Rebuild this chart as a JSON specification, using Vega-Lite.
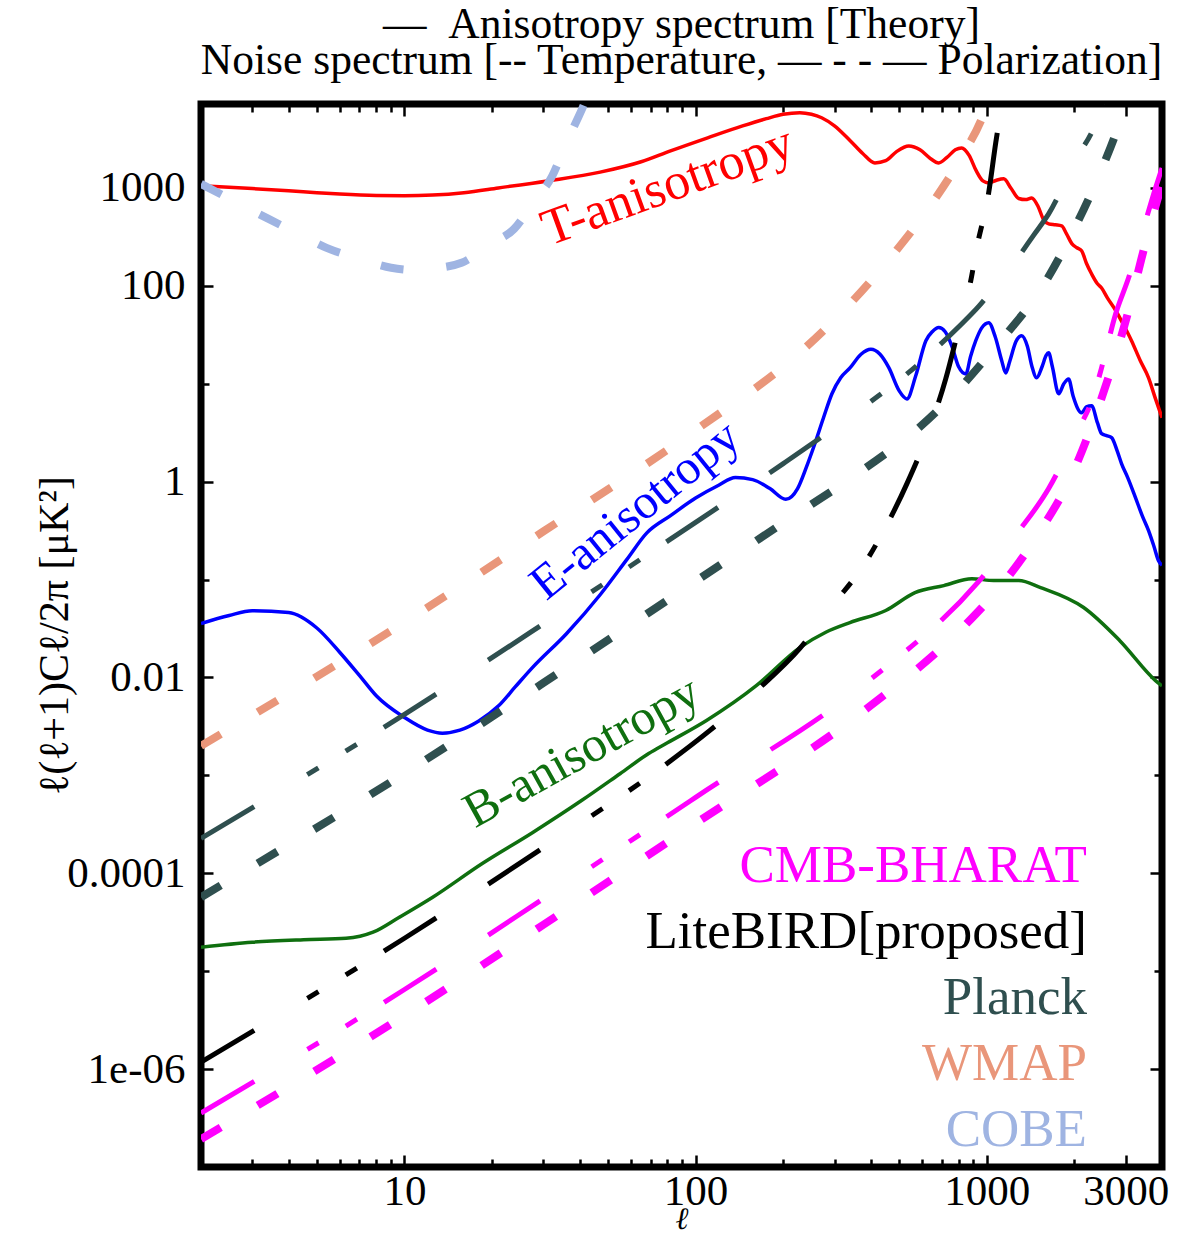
{
"$schema": "https://vega.github.io/schema/vega-lite/v6.json",
"width": 961, "height": 1063,
"autosize": {"type": "none"},
"padding": {"left": 201, "top": 104, "right": 22, "bottom": 66},
"background": "white",
"title": {"text": ["—\u00a0\u00a0Anisotropy spectrum [Theory]\u00a0\u00a0", "Noise spectrum [-- Temperature, — - - — Polarization]"], "anchor": "middle", "font": "Liberation Serif", "fontSize": 43.5, "fontWeight": "normal", "color": "black", "lineHeight": 36, "offset": 19},
"datasets": {
"theory": [
{"s":"T","l":2,"v":1050},{"s":"T","l":3,"v":985},{"s":"T","l":4,"v":935},{"s":"T","l":5,"v":895},{"s":"T","l":6,"v":865},{"s":"T","l":8,"v":835},{"s":"T","l":10,"v":830},{"s":"T","l":12.5,"v":845},{"s":"T","l":16,"v":895},{"s":"T","l":21,"v":1000},{"s":"T","l":31,"v":1180},{"s":"T","l":47,"v":1450},{"s":"T","l":65,"v":1850},{"s":"T","l":82,"v":2390},{"s":"T","l":110,"v":3250},{"s":"T","l":145,"v":4300},{"s":"T","l":175,"v":5100},{"s":"T","l":200,"v":5650},{"s":"T","l":228,"v":5860},{"s":"T","l":250,"v":5650},{"s":"T","l":271,"v":5210},{"s":"T","l":300,"v":4300},{"s":"T","l":339,"v":3050},{"s":"T","l":375,"v":2250},{"s":"T","l":413,"v":1800},{"s":"T","l":450,"v":1900},{"s":"T","l":490,"v":2350},{"s":"T","l":540,"v":2680},{"s":"T","l":590,"v":2450},{"s":"T","l":640,"v":2000},{"s":"T","l":684,"v":1800},{"s":"T","l":730,"v":2050},{"s":"T","l":780,"v":2450},{"s":"T","l":820,"v":2560},{"s":"T","l":870,"v":2150},{"s":"T","l":920,"v":1500},{"s":"T","l":970,"v":1180},{"s":"T","l":1016,"v":1125},{"s":"T","l":1080,"v":1200},{"s":"T","l":1144,"v":1240},{"s":"T","l":1210,"v":1000},{"s":"T","l":1288,"v":780},{"s":"T","l":1360,"v":760},{"s":"T","l":1427,"v":790},{"s":"T","l":1500,"v":650},{"s":"T","l":1570,"v":470},{"s":"T","l":1632,"v":430},{"s":"T","l":1720,"v":420},{"s":"T","l":1808,"v":410},{"s":"T","l":1880,"v":340},{"s":"T","l":1960,"v":270},{"s":"T","l":2040,"v":245},{"s":"T","l":2118,"v":228},{"s":"T","l":2200,"v":170},{"s":"T","l":2293,"v":132},{"s":"T","l":2400,"v":105},{"s":"T","l":2481,"v":95},{"s":"T","l":2600,"v":75},{"s":"T","l":2773,"v":56},{"s":"T","l":2950,"v":40},{"s":"T","l":3143,"v":27.5},{"s":"T","l":3360,"v":17.5},{"s":"T","l":3597,"v":11.5},{"s":"T","l":3800,"v":7},{"s":"T","l":4000,"v":4.5},
{"s":"E","l":2,"v":0.0356},{"s":"E","l":2.5,"v":0.043},{"s":"E","l":3,"v":0.048},{"s":"E","l":4,"v":0.046},{"s":"E","l":5,"v":0.032},{"s":"E","l":6,"v":0.018},{"s":"E","l":7,"v":0.0105},{"s":"E","l":8,"v":0.0065},{"s":"E","l":10,"v":0.0039},{"s":"E","l":12,"v":0.0029},{"s":"E","l":13.5,"v":0.0027},{"s":"E","l":15.5,"v":0.0029},{"s":"E","l":18,"v":0.0036},{"s":"E","l":21,"v":0.0051},{"s":"E","l":24,"v":0.008},{"s":"E","l":27.5,"v":0.0126},{"s":"E","l":36,"v":0.028},{"s":"E","l":47,"v":0.07},{"s":"E","l":58,"v":0.16},{"s":"E","l":68,"v":0.3},{"s":"E","l":82,"v":0.45},{"s":"E","l":100,"v":0.68},{"s":"E","l":120,"v":0.92},{"s":"E","l":137,"v":1.1},{"s":"E","l":157,"v":1.05},{"s":"E","l":180,"v":0.85},{"s":"E","l":204,"v":0.66},{"s":"E","l":224,"v":0.85},{"s":"E","l":240,"v":1.4},{"s":"E","l":255,"v":2.3},{"s":"E","l":275,"v":4.5},{"s":"E","l":294,"v":7.9},{"s":"E","l":315,"v":11.5},{"s":"E","l":339,"v":14.5},{"s":"E","l":370,"v":20},{"s":"E","l":400,"v":22.5},{"s":"E","l":430,"v":20},{"s":"E","l":461,"v":14.6},{"s":"E","l":500,"v":8.5},{"s":"E","l":532,"v":7},{"s":"E","l":570,"v":12},{"s":"E","l":618,"v":27.5},{"s":"E","l":650,"v":34},{"s":"E","l":684,"v":37.5},{"s":"E","l":720,"v":34},{"s":"E","l":760,"v":24},{"s":"E","l":800,"v":15},{"s":"E","l":848,"v":12.6},{"s":"E","l":880,"v":19},{"s":"E","l":917,"v":27.5},{"s":"E","l":960,"v":37},{"s":"E","l":1016,"v":42},{"s":"E","l":1070,"v":30},{"s":"E","l":1126,"v":17.2},{"s":"E","l":1162,"v":12.9},{"s":"E","l":1200,"v":17},{"s":"E","l":1260,"v":27},{"s":"E","l":1318,"v":31},{"s":"E","l":1380,"v":24},{"s":"E","l":1430,"v":15},{"s":"E","l":1484,"v":11.5},{"s":"E","l":1550,"v":15},{"s":"E","l":1600,"v":19.5},{"s":"E","l":1632,"v":20.7},{"s":"E","l":1680,"v":15},{"s":"E","l":1767,"v":7.9},{"s":"E","l":1840,"v":10},{"s":"E","l":1911,"v":11.2},{"s":"E","l":1980,"v":7.5},{"s":"E","l":2118,"v":5.06},{"s":"E","l":2200,"v":5.8},{"s":"E","l":2293,"v":5.97},{"s":"E","l":2400,"v":4},{"s":"E","l":2481,"v":3.09},{"s":"E","l":2580,"v":2.95},{"s":"E","l":2685,"v":2.81},{"s":"E","l":2800,"v":2.1},{"s":"E","l":2904,"v":1.53},{"s":"E","l":3050,"v":1.1},{"s":"E","l":3243,"v":0.687},{"s":"E","l":3420,"v":0.45},{"s":"E","l":3597,"v":0.316},{"s":"E","l":3750,"v":0.22},{"s":"E","l":3891,"v":0.156},{"s":"E","l":4000,"v":0.14},
{"s":"B","l":2,"v":1.76e-5},{"s":"B","l":3,"v":1.98e-5},{"s":"B","l":4.5,"v":2.1e-5},{"s":"B","l":6.3,"v":2.17e-5},{"s":"B","l":7.8,"v":2.5e-5},{"s":"B","l":9.6,"v":3.56e-5},{"s":"B","l":12.5,"v":5.7e-5},{"s":"B","l":18.5,"v":1.26e-4},{"s":"B","l":27.5,"v":2.6e-4},{"s":"B","l":40.8,"v":5.6e-4},{"s":"B","l":55,"v":1.04e-3},{"s":"B","l":69,"v":1.67e-3},{"s":"B","l":80,"v":2.15e-3},{"s":"B","l":109,"v":3.64e-3},{"s":"B","l":162,"v":8.3e-3},{"s":"B","l":228,"v":0.0202},{"s":"B","l":280,"v":0.029},{"s":"B","l":339,"v":0.0364},{"s":"B","l":450,"v":0.0483},{"s":"B","l":567,"v":0.0736},{"s":"B","l":712,"v":0.0868},{"s":"B","l":889,"v":0.102},{"s":"B","l":1057,"v":0.0977},{"s":"B","l":1288,"v":0.0977},{"s":"B","l":1531,"v":0.0828},{"s":"B","l":2152,"v":0.0518},{"s":"B","l":2860,"v":0.0239},{"s":"B","l":3800,"v":0.0093},{"s":"B","l":4000,"v":0.0082}
],
"temp": [
{"s":"COBE","l":2,"v":1100},{"s":"COBE","l":2.5,"v":780},{"s":"COBE","l":3.36,"v":494},{"s":"COBE","l":4.3,"v":342},{"s":"COBE","l":5.4,"v":244},{"s":"COBE","l":7,"v":189},{"s":"COBE","l":9,"v":153},{"s":"COBE","l":11,"v":145},{"s":"COBE","l":13,"v":152},{"s":"COBE","l":15.7,"v":172},{"s":"COBE","l":20,"v":273},{"s":"COBE","l":23.8,"v":382},{"s":"COBE","l":28,"v":747},{"s":"COBE","l":31.9,"v":1265},{"s":"COBE","l":35,"v":2340},{"s":"COBE","l":38.3,"v":4300},{"s":"COBE","l":42,"v":8000},{"s":"COBE","l":45,"v":15000},
{"s":"WMAP","l":2,"v":0.002},{"s":"WMAP","l":10,"v":0.0367},{"s":"WMAP","l":30,"v":0.31},{"s":"WMAP","l":100,"v":3.36},{"s":"WMAP","l":238,"v":23.3},{"s":"WMAP","l":339,"v":65.5},{"s":"WMAP","l":472,"v":202},{"s":"WMAP","l":632,"v":625},{"s":"WMAP","l":815,"v":2023},{"s":"WMAP","l":993,"v":6546},{"s":"WMAP","l":1050,"v":11000},
{"s":"Planck","l":2,"v":5.7e-5},{"s":"Planck","l":10,"v":1.05e-3},{"s":"Planck","l":30,"v":8.8e-3},{"s":"Planck","l":100,"v":0.096},{"s":"Planck","l":200,"v":0.38},{"s":"Planck","l":385,"v":1.39},{"s":"Planck","l":585,"v":3.56},{"s":"Planck","l":834,"v":10},{"s":"Planck","l":1000,"v":18.6},{"s":"Planck","l":1171,"v":32.4},{"s":"Planck","l":1545,"v":95.5},{"s":"Planck","l":1959,"v":340},{"s":"Planck","l":2385,"v":1179},{"s":"Planck","l":2836,"v":4295},{"s":"Planck","l":3000,"v":7000},{"s":"Planck","l":3200,"v":12000},
{"s":"CMB-BHARAT","l":2,"v":1.93e-7},{"s":"CMB-BHARAT","l":10,"v":3.52e-6},{"s":"CMB-BHARAT","l":30,"v":2.98e-5},{"s":"CMB-BHARAT","l":100,"v":3.23e-4},{"s":"CMB-BHARAT","l":387,"v":4.8e-3},{"s":"CMB-BHARAT","l":841,"v":0.034},{"s":"CMB-BHARAT","l":1171,"v":0.102},{"s":"CMB-BHARAT","l":1545,"v":0.331},{"s":"CMB-BHARAT","l":1941,"v":1.1},{"s":"CMB-BHARAT","l":2328,"v":4.19},{"s":"CMB-BHARAT","l":2685,"v":14.6},{"s":"CMB-BHARAT","l":3069,"v":55.6},{"s":"CMB-BHARAT","l":3401,"v":190},{"s":"CMB-BHARAT","l":3800,"v":650},{"s":"CMB-BHARAT","l":4000,"v":1100}
],
"pol": [
{"s":"Planck","l":2,"v":2.27e-4},{"s":"Planck","l":10,"v":4.2e-3},{"s":"Planck","l":30,"v":0.0353},{"s":"Planck","l":100,"v":0.384},{"s":"Planck","l":200,"v":1.53},{"s":"Planck","l":403,"v":6.7},{"s":"Planck","l":532,"v":12.6},{"s":"Planck","l":673,"v":23.3},{"s":"Planck","l":800,"v":38},{"s":"Planck","l":940,"v":62},{"s":"Planck","l":1100,"v":110},{"s":"Planck","l":1256,"v":180},{"s":"Planck","l":1450,"v":330},{"s":"Planck","l":1632,"v":543},{"s":"Planck","l":2037,"v":2023},{"s":"Planck","l":2367,"v":4604},{"s":"Planck","l":2500,"v":7500},
{"s":"LiteBIRD[proposed]","l":2,"v":1.18e-6},{"s":"LiteBIRD[proposed]","l":10,"v":2.17e-5},{"s":"LiteBIRD[proposed]","l":30,"v":1.83e-4},{"s":"LiteBIRD[proposed]","l":78,"v":1.26e-3},{"s":"LiteBIRD[proposed]","l":112,"v":2.88e-3},{"s":"LiteBIRD[proposed]","l":165,"v":7.7e-3},{"s":"LiteBIRD[proposed]","l":228,"v":0.0198},{"s":"LiteBIRD[proposed]","l":300,"v":0.0574},{"s":"LiteBIRD[proposed]","l":381,"v":0.146},{"s":"LiteBIRD[proposed]","l":437,"v":0.294},{"s":"LiteBIRD[proposed]","l":532,"v":0.955},{"s":"LiteBIRD[proposed]","l":632,"v":3.3},{"s":"LiteBIRD[proposed]","l":723,"v":11.2},{"s":"LiteBIRD[proposed]","l":800,"v":36},{"s":"LiteBIRD[proposed]","l":881,"v":112},{"s":"LiteBIRD[proposed]","l":924,"v":244},{"s":"LiteBIRD[proposed]","l":1016,"v":900},{"s":"LiteBIRD[proposed]","l":1074,"v":2900},{"s":"LiteBIRD[proposed]","l":1125,"v":7000},{"s":"LiteBIRD[proposed]","l":1160,"v":14000},
{"s":"CMB-BHARAT","l":2,"v":3.56e-7},{"s":"CMB-BHARAT","l":10,"v":6.5e-6},{"s":"CMB-BHARAT","l":30,"v":5.5e-5},{"s":"CMB-BHARAT","l":100,"v":5.96e-4},{"s":"CMB-BHARAT","l":387,"v":8.9e-3},{"s":"CMB-BHARAT","l":931,"v":0.093},{"s":"CMB-BHARAT","l":1268,"v":0.294},{"s":"CMB-BHARAT","l":1632,"v":0.85},{"s":"CMB-BHARAT","l":2037,"v":3.16},{"s":"CMB-BHARAT","l":2328,"v":7.55},{"s":"CMB-BHARAT","l":2518,"v":17.2},{"s":"CMB-BHARAT","l":2773,"v":51.8},{"s":"CMB-BHARAT","l":3069,"v":120},{"s":"CMB-BHARAT","l":3401,"v":330},{"s":"CMB-BHARAT","l":3800,"v":1000},{"s":"CMB-BHARAT","l":4000,"v":1600}
]
},
"layer": [
{"data": {"name": "theory"},
 "mark": {"type": "line", "clip": true, "strokeWidth": 3.5, "interpolate": "monotone"},
 "encoding": {
  "x": {"field": "l", "type": "quantitative", "scale": {"type": "log", "domain": [2, 4000], "nice": false},
        "axis": {"orient": "bottom", "values": [10, 100, 1000, 3000], "format": "d", "tickSize": -12, "labelPadding": 15, "labelBaseline": "top", "title": "ℓ", "titleFontSize": 31, "titleFontStyle": "italic", "titleY": 61, "titleBaseline": "alphabetic"}},
  "y": {"field": "v", "type": "quantitative", "scale": {"type": "log", "domain": [1e-7, 7200], "nice": false},
        "axis": {"orient": "left", "values": [1000, 100, 1, 0.01, 0.0001, 0.000001], "labelExpr": "datum.value < 1e-5 ? '1e-06' : format(datum.value, '~g')", "tickSize": -12, "labelPadding": 28, "title": "ℓ(ℓ+1)Cℓ/2π [μK²]", "titleFontSize": 42, "titleAngle": -90, "titleX": -147, "titleY": 531, "titleBaseline": "middle", "titleAlign": "center"}},
  "color": {"field": "s", "type": "nominal", "legend": null,
            "scale": {"domain": ["T","E","B","CMB-BHARAT","LiteBIRD[proposed]","Planck","WMAP","COBE"], "range": ["#ff0000","#0000ff","#0f6f0f","#ff00ff","#000000","#2f4f4f","#e9967a","#9fb4e2"]}}
 }},
{"data": {"name": "temp"},
 "mark": {"type": "line", "clip": true, "strokeWidth": 8, "strokeDash": [23, 43], "strokeCap": "butt", "interpolate": "monotone"},
 "encoding": {
  "x": {"field": "l", "type": "quantitative", "scale": {"type": "log", "domain": [2, 4000], "nice": false},
        "axis": {"orient": "bottom", "values": [3,4,5,6,7,8,9,20,30,40,50,60,70,80,90,200,300,400,500,600,700,800,900,2000], "labels": false, "tickSize": -8, "title": null}},
  "y": {"field": "v", "type": "quantitative", "scale": {"type": "log", "domain": [1e-7, 7200], "nice": false},
        "axis": {"orient": "left", "values": [10, 0.1, 0.001, 0.00001], "labels": false, "tickSize": -8, "title": null}},
  "color": {"field": "s", "type": "nominal",
            "scale": {"domain": ["T","E","B","CMB-BHARAT","LiteBIRD[proposed]","Planck","WMAP","COBE"], "range": ["#ff0000","#0000ff","#0f6f0f","#ff00ff","#000000","#2f4f4f","#e9967a","#9fb4e2"]},
            "legend": {"values": ["CMB-BHARAT","LiteBIRD[proposed]","Planck","WMAP","COBE"], "orient": "none", "legendX": 833, "legendY": 735, "title": null, "symbolOpacity": 0, "symbolSize": 1, "symbolStrokeWidth": 0, "labelFont": "Liberation Serif", "labelFontSize": 53, "labelAlign": "right", "labelOffset": 0, "padding": 0, "rowPadding": 12, "labelLimit": 0,
                       "encode": {"labels": {"update": {"fill": {"scale": "color", "field": "value"}}}}}}
 }},
{"data": {"name": "pol"},
 "mark": {"type": "line", "clip": true, "strokeWidth": 5, "strokeDash": [62, 62, 13, 32, 13, 32, 62, 62], "strokeCap": "butt", "interpolate": "monotone"},
 "encoding": {
  "x": {"field": "l", "type": "quantitative", "scale": {"type": "log", "domain": [2, 4000], "nice": false},
        "axis": {"orient": "top", "values": [10, 100, 1000, 3000], "labels": false, "tickSize": -12, "title": null}},
  "y": {"field": "v", "type": "quantitative", "scale": {"type": "log", "domain": [1e-7, 7200], "nice": false},
        "axis": {"orient": "right", "values": [1000, 100, 1, 0.01, 0.0001, 0.000001], "labels": false, "tickSize": -12, "title": null}},
  "color": {"field": "s", "type": "nominal", "legend": null,
            "scale": {"domain": ["T","E","B","CMB-BHARAT","LiteBIRD[proposed]","Planck","WMAP","COBE"], "range": ["#ff0000","#0000ff","#0f6f0f","#ff00ff","#000000","#2f4f4f","#e9967a","#9fb4e2"]}}
 }},
{"data": {"values": [{"label": "T-anisotropy"}]},
 "mark": {"type": "text", "angle": 340, "color": "#ff0000", "fontSize": 52, "font": "Liberation Serif", "align": "center", "baseline": "middle"},
 "encoding": {
  "text": {"field": "label"},
  "x": {"datum": 80, "type": "quantitative", "scale": {"type": "log", "domain": [2, 4000], "nice": false},
        "axis": {"orient": "top", "values": [3,4,5,6,7,8,9,20,30,40,50,60,70,80,90,200,300,400,500,600,700,800,900,2000], "labels": false, "tickSize": -8, "title": null}},
  "y": {"datum": 1050, "type": "quantitative", "scale": {"type": "log", "domain": [1e-7, 7200], "nice": false},
        "axis": {"orient": "right", "values": [10, 0.1, 0.001, 0.00001], "labels": false, "tickSize": -8, "title": null}}
 }},
{"data": {"values": [{"label": "E-anisotropy"}]},
 "mark": {"type": "text", "angle": 321, "color": "#0000ff", "fontSize": 49, "font": "Liberation Serif", "align": "center", "baseline": "middle"},
 "encoding": {
  "text": {"field": "label"},
  "x": {"datum": 62, "type": "quantitative", "scale": {"type": "log", "domain": [2, 4000], "nice": false}, "axis": null},
  "y": {"datum": 0.51, "type": "quantitative", "scale": {"type": "log", "domain": [1e-7, 7200], "nice": false}, "axis": null}
 }},
{"data": {"values": [{"label": "B-anisotropy"}]},
 "mark": {"type": "text", "angle": 331, "color": "#0f6f0f", "fontSize": 50, "font": "Liberation Serif", "align": "center", "baseline": "middle"},
 "encoding": {
  "text": {"field": "label"},
  "x": {"datum": 40.7, "type": "quantitative", "scale": {"type": "log", "domain": [2, 4000], "nice": false}, "axis": null},
  "y": {"datum": 0.00173, "type": "quantitative", "scale": {"type": "log", "domain": [1e-7, 7200], "nice": false}, "axis": null}
 }}
],
"resolve": {"axis": {"x": "independent", "y": "independent"}, "legend": {"color": "independent"}},
"config": {
 "view": {"stroke": "black", "strokeWidth": 7},
 "axis": {"domain": false, "grid": false, "tickColor": "black", "tickWidth": 2.5, "labelFont": "Liberation Serif", "labelFontSize": 43, "labelColor": "black", "titleFont": "Liberation Serif", "titleFontWeight": "normal", "titleColor": "black", "labelFlush": false, "labelOverlap": false, "labelBound": false}
}
}
